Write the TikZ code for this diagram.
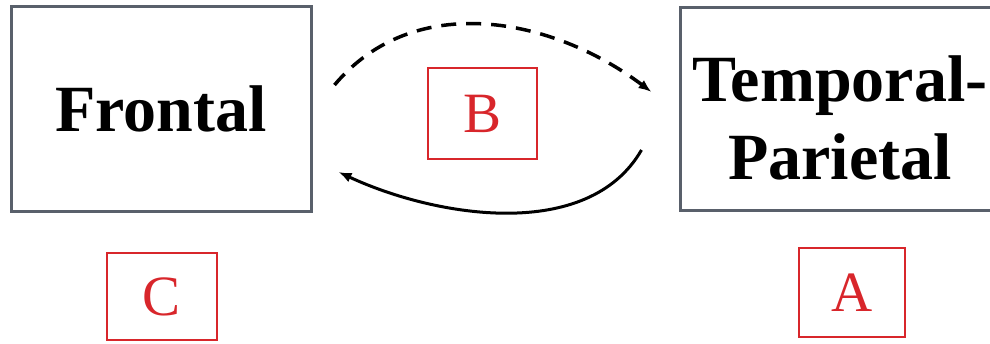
\documentclass[tikz,border=0pt]{standalone}
\usepackage{fontspec}
\setmainfont{Liberation Serif}
\usepackage{xcolor}
\usepackage{tikz}
\usetikzlibrary{arrows.meta}
\definecolor{Frame}{HTML}{59606B}
\definecolor{Ink}{HTML}{000000}
\definecolor{Mark}{HTML}{D8262B}

\begin{document}
\begin{tikzpicture}[x=1pt,y=1pt,
  region/.style={draw=Frame,fill=white,line width=3pt,align=center,font=\fontsize{66}{78}\selectfont\bfseries,text=Ink},
  tag/.style={draw=Mark,line width=2.5pt,minimum width=108pt,minimum height=89pt,inner sep=0pt,font=\fontsize{57}{60}\selectfont,text=Mark},
  edge/.style={-{Latex[length=13pt,width=10pt]},line width=3pt,draw=Ink}
]
  \useasboundingbox (0,0) rectangle (990,343);
  \node[region,minimum width=300pt,minimum height=204pt] (fr) at (161,234) {Frontal};
  \node[region,minimum width=320pt,minimum height=202pt] (tp) at (840,234) {\rule{0pt}{63pt}Temporal-\\Parietal};
  \node[tag,minimum width=109pt,minimum height=91pt] (b) at (482.5,229.5) {B};
  \node[tag,minimum width=110pt,minimum height=87pt] (c) at (162,46.5) {C};
  \node[tag,minimum width=106pt] (a) at (852,50.5) {A};
  \draw[edge,line width=3.5pt,dash pattern=on 15pt off 10pt] ([shift={(22,24)}]fr.east) to[out=50,in=143] ([shift={(-27,17)}]tp.west);
  \draw[edge] ([shift={(-37,-41)}]tp.west) to[out=240,in=-25,looseness=0.9] ([shift={(26,-63)}]fr.east);
\end{tikzpicture}
\end{document}
